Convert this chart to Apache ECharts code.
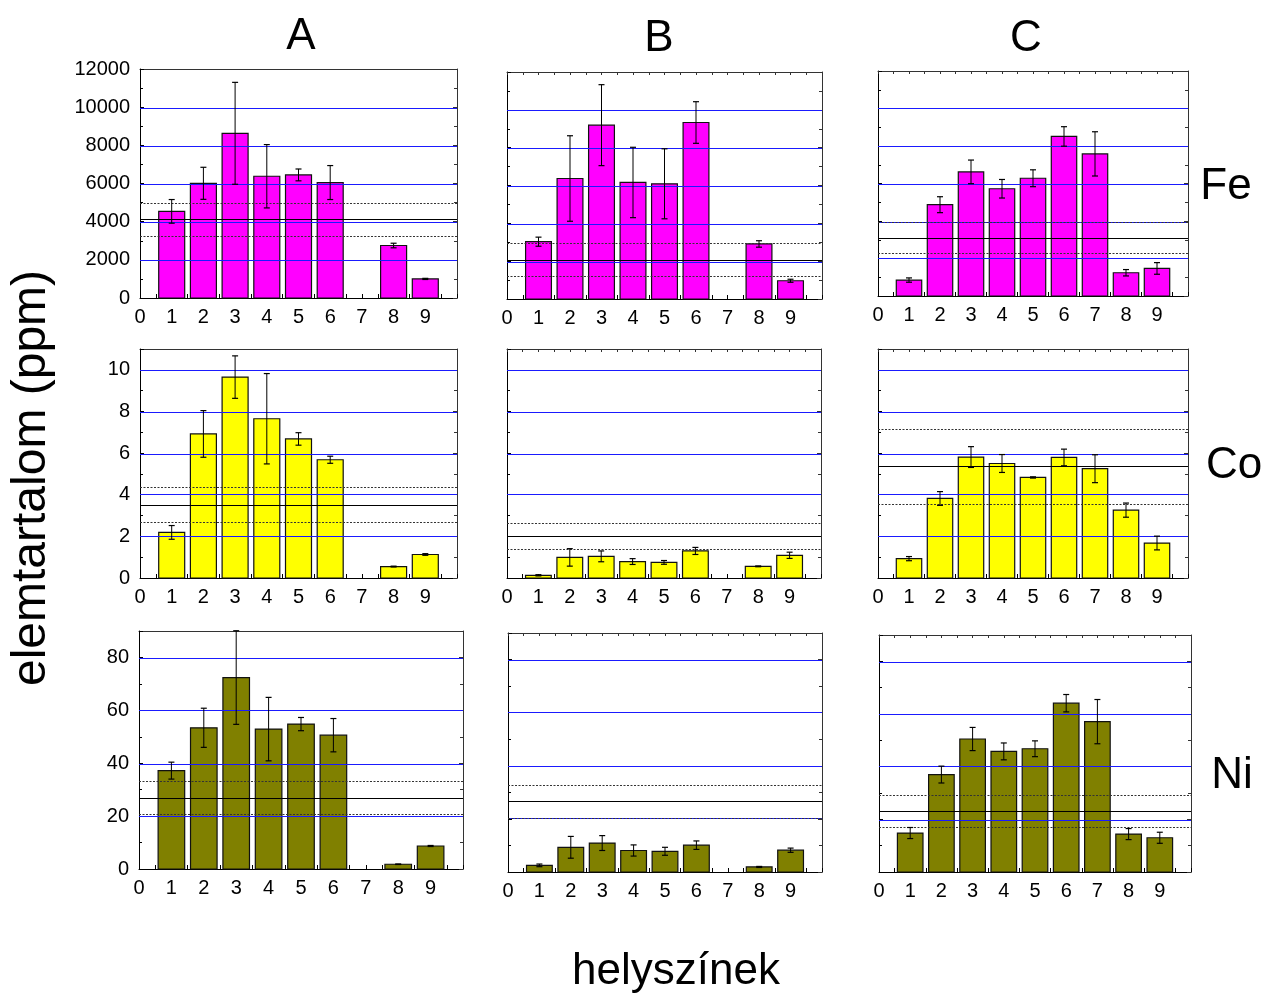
<!DOCTYPE html>
<html><head><meta charset="utf-8">
<script src="https://cdn.jsdelivr.net/npm/echarts@6/dist/echarts.min.js"></script>
<style>html,body{margin:0;padding:0;background:#fff}#c{width:1265px;height:997px}</style>
</head><body><div id="c"></div>
<script>
// ---------------- data ----------------
const sites = [1, 2, 3, 4, 5, 6, 7, 8, 9];
const xTickLabels = ['0', '1', '2', '3', '4', '5', '6', '7', '8', '9'];
const columns = ['A', 'B', 'C'];
const elements = ['Fe', 'Co', 'Ni'];
const yTitle = 'elemtartalom (ppm)';
const xTitle = 'helyszínek';

const feA = [4540, 6010, 8630, 6380, 6450, 6050, null, 2750, 1000];
const feAErr = [620, 840, 2670, 1660, 310, 890, null, 120, 30];
const feB = [3030, 6370, 9190, 6160, 6090, 9330, null, 2910, 965];
const feBErr = [240, 2260, 2140, 1860, 1850, 1100, null, 170, 80];
const feC = [850, 4870, 6620, 5720, 6280, 8510, 7580, 1240, 1470];
const feCErr = [115, 425, 630, 495, 450, 520, 1180, 170, 310];

const coA = [2.19, 6.92, 9.65, 7.65, 6.68, 5.68, null, 0.55, 1.13];
const coAErr = [0.33, 1.12, 1.02, 2.17, 0.30, 0.17, null, 0.02, 0.04];
const coB = [0.13, 0.99, 1.04, 0.79, 0.75, 1.30, null, 0.56, 1.09];
const coBErr = [0.03, 0.42, 0.26, 0.14, 0.09, 0.17, null, 0.02, 0.15];
const coC = [0.93, 3.82, 5.81, 5.50, 4.83, 5.79, 5.25, 3.26, 1.68];
const coCErr = [0.10, 0.33, 0.50, 0.43, 0.03, 0.40, 0.67, 0.34, 0.33];

const niA = [37.2, 53.4, 72.4, 52.9, 54.8, 50.6, null, 1.8, 8.7];
const niAErr = [3.2, 7.4, 17.7, 12.0, 2.5, 6.3, null, 0.1, 0.2];
const niB = [2.5, 9.3, 10.9, 8.1, 7.8, 10.1, null, 1.9, 8.2];
const niBErr = [0.5, 4.1, 2.8, 2.1, 1.5, 1.6, null, 0.2, 0.8];
const niC = [14.8, 37.0, 50.5, 45.8, 46.8, 64.1, 57.1, 14.4, 13.0];
const niCErr = [2.1, 3.2, 4.4, 3.2, 3.0, 3.3, 8.4, 2.1, 2.1];

const refMeanFe = [4120, 2080, 3115];
const refDevFe = [860, 880, 815];
const refMeanCo = [3.53, 2.01, 5.36];
const refDevCo = [0.83, 0.64, 1.82];
const refMeanNi = [27.0, 26.7, 23.1];
const refDevNi = [6.2, 6.2, 6.2];

const yTickLabelsFe = ['0', '2000', '4000', '6000', '8000', '10000', '12000'];
const yTickLabelsCo = ['0', '2', '4', '6', '8', '10'];
const yTickLabelsNi = ['0', '20', '40', '60', '80'];
const yGridFe = [2000, 4000, 6000, 8000, 10000];
const yGridCo = [2, 4, 6, 8, 10];
const yGridNi = [20, 40, 60, 80];
const yMax = [12000, 11, 90];
const yStep = [2000, 2, 20];
const xMax = 10;

// ---------------- layout / style ----------------
const values = [[feA, feB, feC], [coA, coB, coC], [niA, niB, niC]];
const errors = [[feAErr, feBErr, feCErr], [coAErr, coBErr, coCErr], [niAErr, niBErr, niCErr]];
const refMeans = [refMeanFe, refMeanCo, refMeanNi];
const refDevs = [refDevFe, refDevCo, refDevNi];
const yTickLabels = [yTickLabelsFe, yTickLabelsCo, yTickLabelsNi];
const yGrids = [yGridFe, yGridCo, yGridNi];

const gridRects = [
  [[140, 69, 317, 229], [507, 72, 315, 227], [878, 71, 310, 225]],
  [[140, 349, 317, 229], [507, 349, 314, 229], [878, 349, 310, 229]],
  [[139, 631, 324, 238], [508, 633, 314, 239], [879, 635, 312, 237]]
];
const barColors = ['#ff00ff', '#ffff00', '#808000'];
const FONT = '"Liberation Sans", Arial, Helvetica, sans-serif';
const BAR_W = 0.82;

const grid = [], xAxis = [], yAxis = [], series = [];

for (let r = 0; r < 3; r++) {
  for (let c = 0; c < 3; c++) {
    const k = r * 3 + c;
    const [gl, gt, gw, gh] = gridRects[r][c];
    grid.push({ left: gl, top: gt, width: gw, height: gh });

    xAxis.push({
      gridIndex: k, type: 'value', min: 0, max: xMax, interval: 1, position: 'bottom',
      axisLine: { show: true, onZero: false, lineStyle: { color: '#000', width: 1 } },
      axisTick: { show: true, inside: true, length: 4, lineStyle: { color: '#000' } },
      minorTick: { show: true, splitNumber: 2, length: 4, lineStyle: { color: '#000' } },
      axisLabel: {
        show: true, fontSize: 20, fontFamily: FONT, color: '#000', margin: 9,
        showMaxLabel: false,
        formatter: v => (Number.isInteger(v) && v < xTickLabels.length) ? xTickLabels[v] : ''
      },
      splitLine: { show: false }, minorSplitLine: { show: false }
    });
    xAxis.push({
      gridIndex: k, type: 'value', min: 0, max: xMax, interval: 1, position: 'top',
      axisLine: { show: true, onZero: false, lineStyle: { color: '#333', width: 1 } },
      axisTick: { show: c > 0, inside: true, length: 3, lineStyle: { color: '#333' } },
      minorTick: { show: c > 0, splitNumber: 2, length: 3, lineStyle: { color: '#333' } },
      axisLabel: { show: false },
      splitLine: { show: false }, minorSplitLine: { show: false }
    });

    const step = yStep[r];
    const labels = yTickLabels[r];
    yAxis.push({
      gridIndex: k, type: 'value', min: 0, max: yMax[r], interval: step, position: 'left',
      axisLine: { show: true, onZero: false, lineStyle: { color: '#000', width: 1 } },
      axisTick: { show: true, inside: true, length: 4, lineStyle: { color: '#000' } },
      minorTick: { show: true, splitNumber: 2, length: 3, lineStyle: { color: '#000' } },
      axisLabel: {
        show: c === 0, fontSize: 20, fontFamily: FONT, color: '#000', margin: 10,
        formatter: v => {
          const i = Math.round(v / step);
          return (Math.abs(i * step - v) < 1e-9 && i < labels.length) ? labels[i] : '';
        }
      },
      splitLine: { show: false }, minorSplitLine: { show: false }
    });
    yAxis.push({
      gridIndex: k, type: 'value', min: 0, max: yMax[r], interval: step, position: 'right',
      axisLine: { show: true, onZero: false, lineStyle: { color: '#333', width: 1 } },
      axisTick: { show: true, inside: true, length: 4, lineStyle: { color: '#333' } },
      minorTick: { show: true, splitNumber: 2, length: 3, lineStyle: { color: '#333' } },
      axisLabel: { show: false },
      splitLine: { show: false }, minorSplitLine: { show: false }
    });

    const xi = 2 * k, yi = 2 * k;
    const vals = values[r][c], errs = errors[r][c];
    const barData = [], errData = [];
    sites.forEach((s, i) => {
      if (vals[i] == null) return;
      barData.push([s, vals[i]]);
      if (errs[i] != null) errData.push([s, vals[i] - errs[i], vals[i] + errs[i]]);
    });
    const color = barColors[r];

    // bars
    series.push({
      type: 'custom', xAxisIndex: xi, yAxisIndex: yi, z: 1,
      data: barData, encode: { x: 0, y: 1 },
      renderItem: (params, api) => {
        const x = api.value(0), y = api.value(1);
        const p0 = api.coord([x - BAR_W / 2, y]);
        const p1 = api.coord([x + BAR_W / 2, 0]);
        return {
          type: 'rect',
          shape: { x: p0[0], y: p0[1], width: p1[0] - p0[0], height: p1[1] - p0[1] },
          style: { fill: color, stroke: '#111', lineWidth: 1.2 }
        };
      }
    });

    // blue horizontal grid lines, drawn over the bars as in the reference
    series.push({
      type: 'custom', xAxisIndex: xi, yAxisIndex: yi, z: 3,
      data: yGrids[r].map(v => [0, v]), encode: { x: 0, y: 1 },
      renderItem: (params, api) => {
        const y = api.value(1);
        const a = api.coord([0, y]), b = api.coord([xMax, y]);
        const yy = 2 * Math.round(a[1] / 2) + 0.5;
        return {
          type: 'line',
          shape: { x1: a[0], y1: yy, x2: b[0], y2: yy },
          style: { stroke: '#1a1aff', lineWidth: 1 }
        };
      }
    });

    // reference lines: mean (solid) and mean ± deviation (dashed)
    const means = refMeans[r], devs = refDevs[r];
    const refData = [[0, means[c], 0], [0, means[c] + devs[c], 1], [0, means[c] - devs[c], 1]];
    series.push({
      type: 'custom', xAxisIndex: xi, yAxisIndex: yi, z: 4,
      data: refData, encode: { x: 0, y: 1 },
      renderItem: (params, api) => {
        const y = api.value(1), dashed = api.value(2) === 1;
        const a = api.coord([0, y]), b = api.coord([xMax, y]);
        const yy = Math.round(a[1]) + 0.5;
        return {
          type: 'line',
          shape: { x1: a[0], y1: yy, x2: b[0], y2: yy },
          style: dashed ? { stroke: '#333', lineWidth: 1, lineDash: [2, 1.5] } : { stroke: '#000', lineWidth: 1 }
        };
      }
    });

    // error bars
    series.push({
      type: 'custom', xAxisIndex: xi, yAxisIndex: yi, z: 5,
      data: errData, encode: { x: 0, y: [1, 2] },
      renderItem: (params, api) => {
        const x = api.value(0);
        const lo = api.coord([x, api.value(1)]);
        const hi = api.coord([x, api.value(2)]);
        const cw = 3;
        return {
          type: 'group',
          children: [
            { type: 'line', shape: { x1: lo[0], y1: lo[1], x2: hi[0], y2: hi[1] }, style: { stroke: '#000', lineWidth: 1 } },
            { type: 'line', shape: { x1: lo[0] - cw, y1: lo[1], x2: lo[0] + cw, y2: lo[1] }, style: { stroke: '#000', lineWidth: 1.2 } },
            { type: 'line', shape: { x1: hi[0] - cw, y1: hi[1], x2: hi[0] + cw, y2: hi[1] }, style: { stroke: '#000', lineWidth: 1.2 } }
          ]
        };
      }
    });
  }
}

const colTitlePos = [[301, 37], [659, 39], [1026, 39]];
const rowTitlePos = [[1226, 187], [1234, 466], [1232, 776]];
const graphic = [];
columns.forEach((t, i) => graphic.push({
  type: 'text', x: colTitlePos[i][0], y: colTitlePos[i][1], z: 10,
  style: { text: t, fontSize: 44, fontFamily: FONT, fill: '#000', align: 'center', verticalAlign: 'middle' }
}));
elements.forEach((t, i) => graphic.push({
  type: 'text', x: rowTitlePos[i][0], y: rowTitlePos[i][1], z: 10,
  style: { text: t, fontSize: 44, fontFamily: FONT, fill: '#000', align: 'center', verticalAlign: 'middle' }
}));
graphic.push({
  type: 'text', x: 32, y: 478, rotation: Math.PI / 2, z: 10,
  style: { text: yTitle, fontSize: 48, fontFamily: FONT, fill: '#000', align: 'center', verticalAlign: 'middle' }
});
graphic.push({
  type: 'text', x: 676, y: 972, z: 10,
  style: { text: xTitle, fontSize: 44, fontFamily: FONT, fill: '#000', align: 'center', verticalAlign: 'middle' }
});

const chart = echarts.init(document.getElementById('c'), null, { renderer: 'canvas' });
chart.setOption({
  animation: false,
  backgroundColor: '#fff',
  grid, xAxis, yAxis, series, graphic
});
</script>
</body></html>
